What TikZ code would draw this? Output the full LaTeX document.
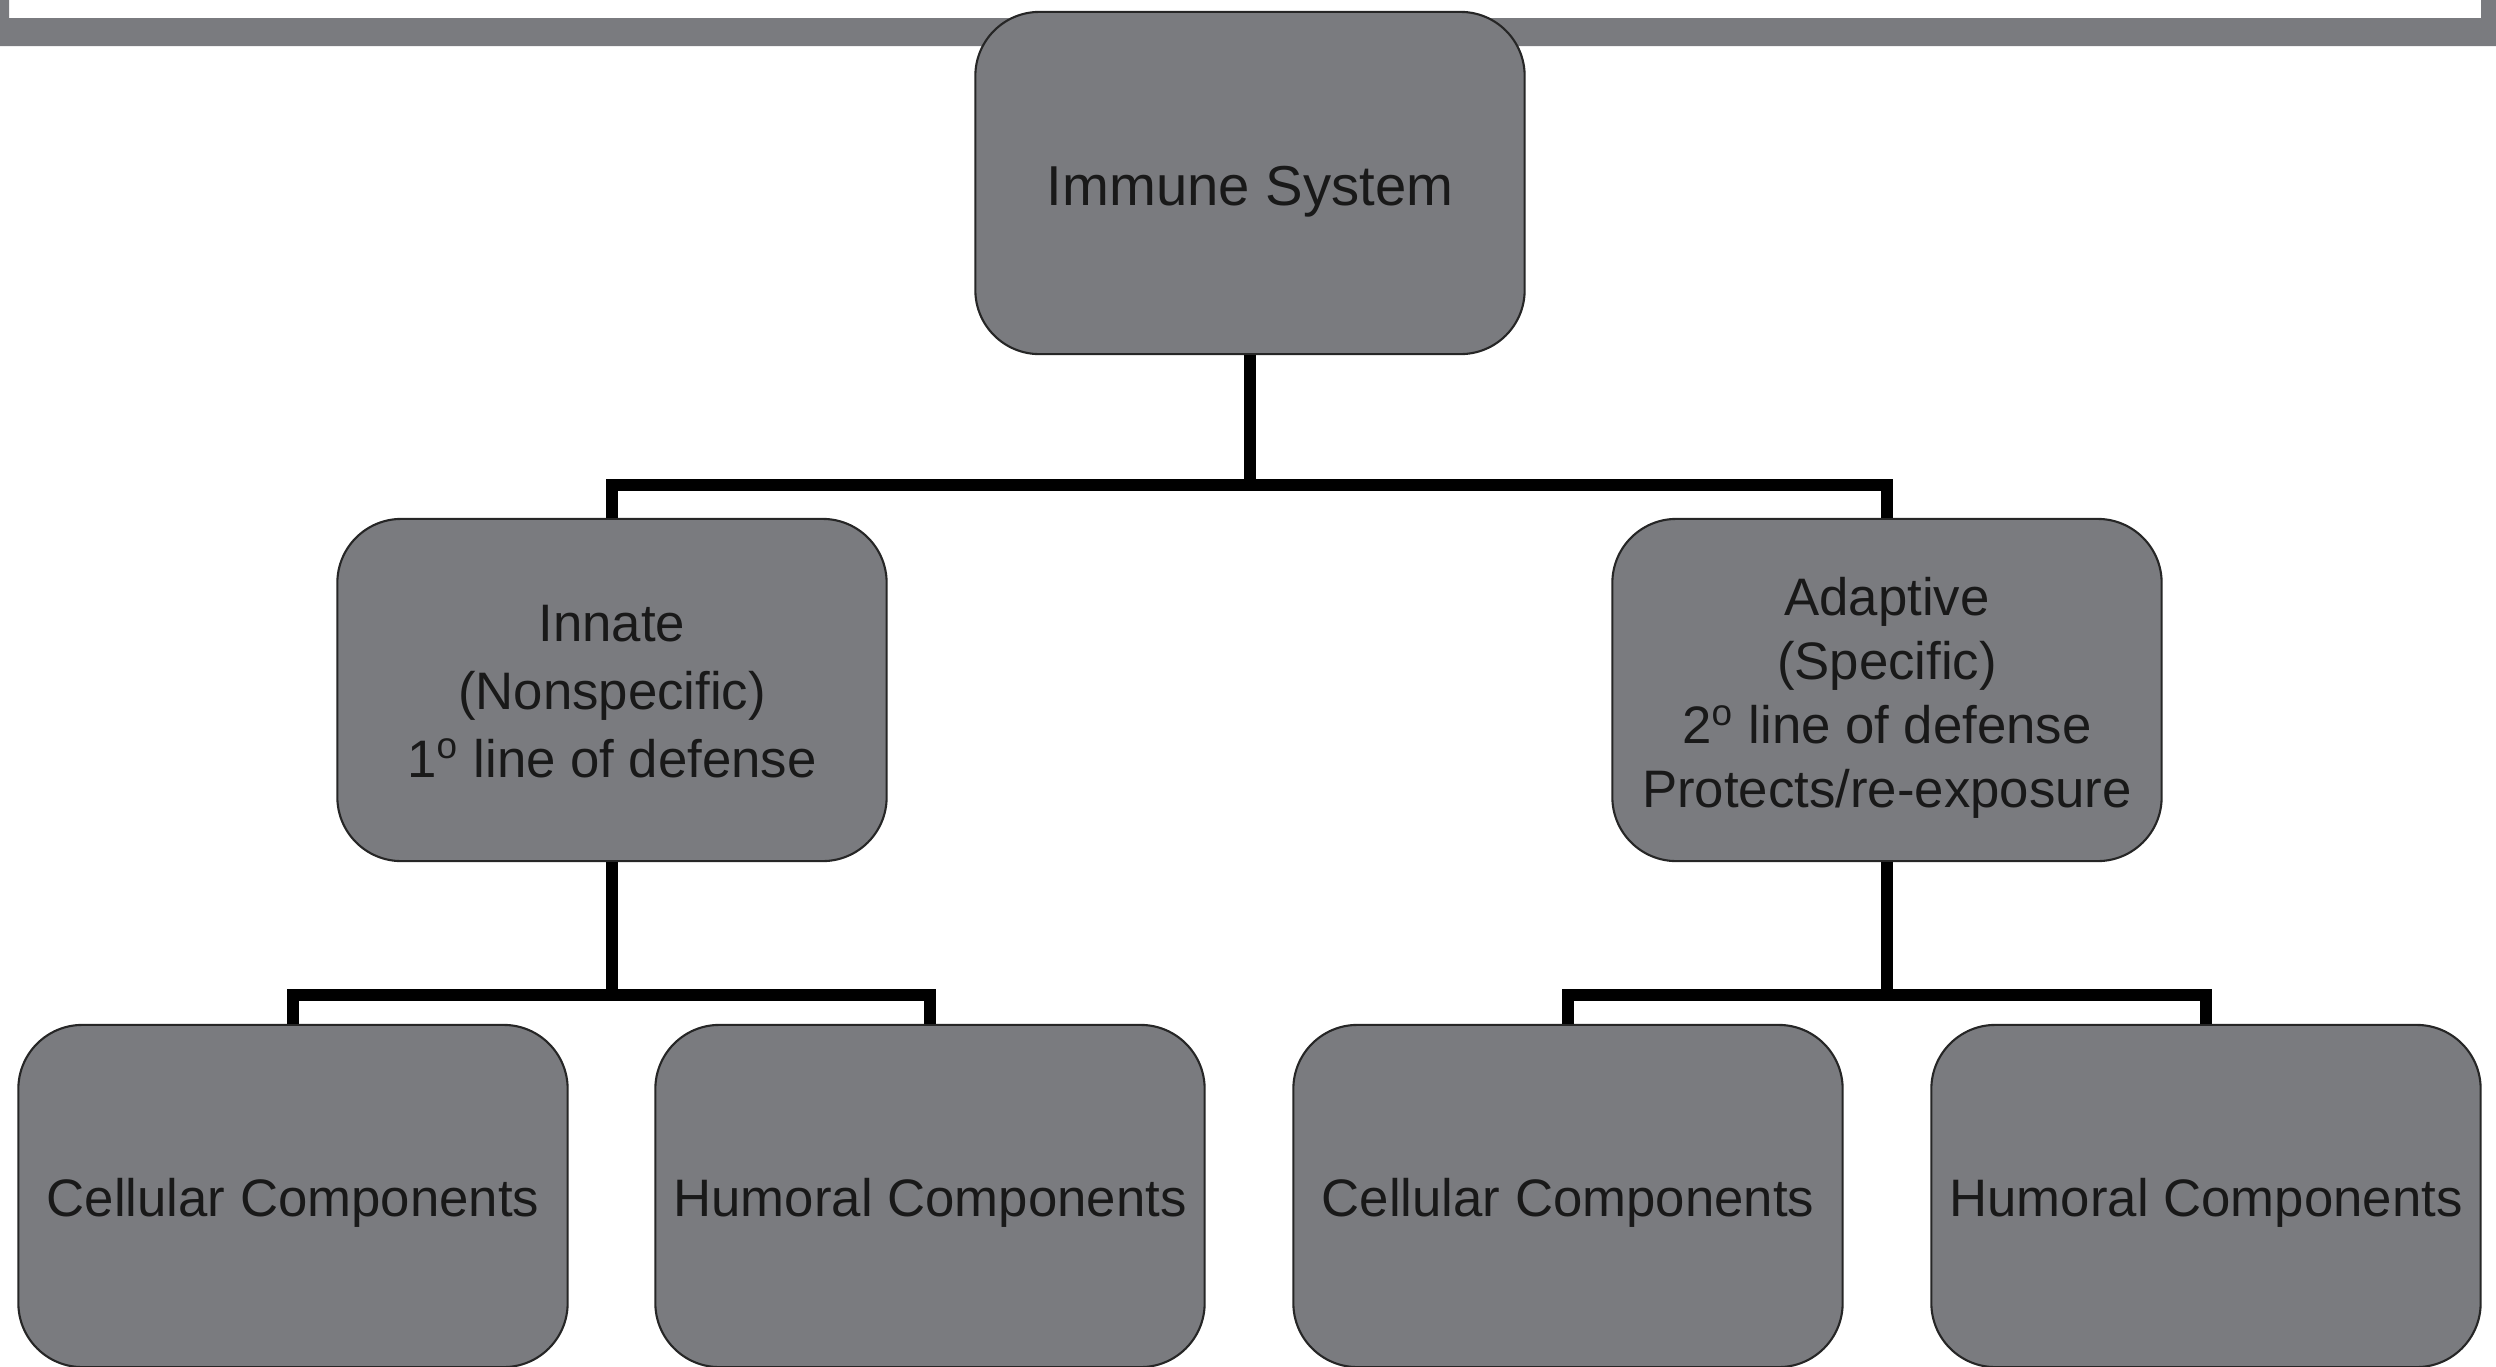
\documentclass[tikz,border=0pt]{standalone}
\usepackage{fontspec}
\setmainfont{Liberation Sans}
\definecolor{boxgray}{RGB}{122,123,127}
% centred block of lines, set a little below the optical centre
\newcommand{\boxlines}[2][2.5pt]{\raisebox{-#1}[\height][\depth]{\begin{tabular}{@{}c@{}}#2\end{tabular}}}
\begin{document}
\begin{tikzpicture}[x=0.01cm,y=-0.01cm,
  box/.style={draw=black!85, line width=0.6pt, fill=boxgray, rounded corners=0.64cm,
    minimum width=5.49cm, minimum height=3.42cm, align=center, inner sep=0pt,
    font=\fontsize{15}{18.2}\selectfont, text=black!90},
  conn/.style={draw=black, line width=3.6pt, line join=miter}]
\useasboundingbox (0,0) rectangle (2496,1366);

% grey bracket along the top edge
\fill[boxgray] (0,0) -- (9,0) -- (9,18) -- (2481,18) -- (2481,0) -- (2496,0)
  -- (2496,46) -- (0,46) -- cycle;

% boxes
\node[box, font=\fontsize{16}{19}\selectfont] (imm) at (1250,183) {\boxlines[2.7pt]{Immune System}};
\node[box, font=\fontsize{15}{19.3}\selectfont] (inn) at (612,690)
  {\boxlines[1.6pt]{Innate\\(Nonspecific)\\1\textsuperscript{o} line of defense}};
\node[box] (ada) at (1887,690)
  {\boxlines{Adaptive\\(Specific)\\2\textsuperscript{o} line of defense\\Protects/re-exposure}};
\node[box] (icell) at (293,1196) {\boxlines[2.3pt]{Cellular Components}};
\node[box] (ihum)  at (930,1196) {\boxlines[2.3pt]{Humoral Components}};
\node[box] (acell) at (1568,1196) {\boxlines[2.3pt]{Cellular Components}};
\node[box] (ahum)  at (2206,1196) {\boxlines[2.3pt]{Humoral Components}};

% junction levels
\coordinate (j1) at (imm.south |- 0,485);
\coordinate (j2) at (inn.south |- 0,995);
\coordinate (j3) at (ada.south |- 0,995);

% connectors
\draw[conn] (imm.south) -- (j1);
\draw[conn] (inn.north) -- (inn.north |- j1) -- (ada.north |- j1) -- (ada.north);
\draw[conn] (inn.south) -- (j2);
\draw[conn] (icell.north) -- (icell.north |- j2) -- (ihum.north |- j2) -- (ihum.north);
\draw[conn] (ada.south) -- (j3);
\draw[conn] (acell.north) -- (acell.north |- j3) -- (ahum.north |- j3) -- (ahum.north);
\end{tikzpicture}
\end{document}
